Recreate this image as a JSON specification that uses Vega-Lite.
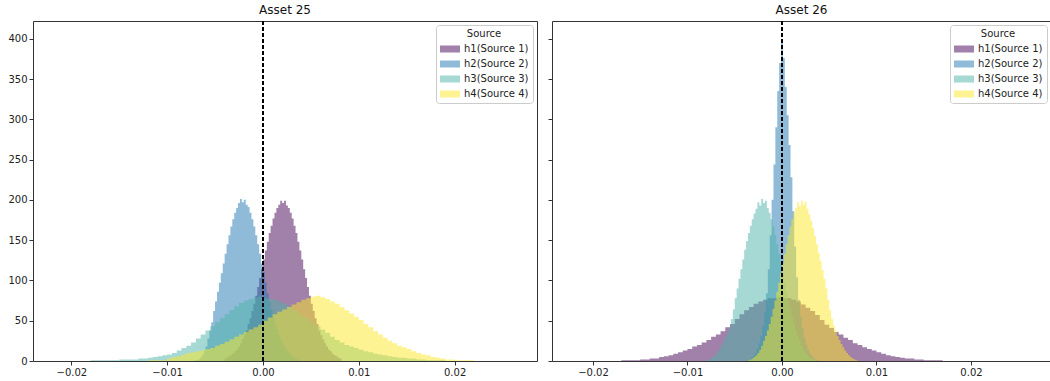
{
"$schema":"https://vega.github.io/schema/vega-lite/v6.json",
"padding":{"left":7,"top":3,"right":0,"bottom":0},
"autosize":{"type":"pad"},
"background":"white",
"spacing":9,
"data":{"values":[
{"a":"Asset 25","s":"h1(Source 1)","x":-0.0040,"n":3},{"a":"Asset 25","s":"h1(Source 1)","x":-0.0038,"n":4},{"a":"Asset 25","s":"h1(Source 1)","x":-0.0036,"n":6},{"a":"Asset 25","s":"h1(Source 1)","x":-0.0034,"n":7},{"a":"Asset 25","s":"h1(Source 1)","x":-0.0032,"n":9},{"a":"Asset 25","s":"h1(Source 1)","x":-0.0030,"n":12},{"a":"Asset 25","s":"h1(Source 1)","x":-0.0028,"n":14},{"a":"Asset 25","s":"h1(Source 1)","x":-0.0026,"n":18},{"a":"Asset 25","s":"h1(Source 1)","x":-0.0024,"n":22},{"a":"Asset 25","s":"h1(Source 1)","x":-0.0022,"n":27},{"a":"Asset 25","s":"h1(Source 1)","x":-0.0020,"n":32},{"a":"Asset 25","s":"h1(Source 1)","x":-0.0018,"n":38},{"a":"Asset 25","s":"h1(Source 1)","x":-0.0016,"n":46},{"a":"Asset 25","s":"h1(Source 1)","x":-0.0014,"n":53},{"a":"Asset 25","s":"h1(Source 1)","x":-0.0012,"n":62},{"a":"Asset 25","s":"h1(Source 1)","x":-0.0010,"n":71},{"a":"Asset 25","s":"h1(Source 1)","x":-0.0008,"n":81},{"a":"Asset 25","s":"h1(Source 1)","x":-0.0006,"n":92},{"a":"Asset 25","s":"h1(Source 1)","x":-0.0004,"n":103},{"a":"Asset 25","s":"h1(Source 1)","x":-0.0002,"n":114},{"a":"Asset 25","s":"h1(Source 1)","x":0.0000,"n":126},{"a":"Asset 25","s":"h1(Source 1)","x":0.0002,"n":137},{"a":"Asset 25","s":"h1(Source 1)","x":0.0004,"n":148},{"a":"Asset 25","s":"h1(Source 1)","x":0.0006,"n":159},{"a":"Asset 25","s":"h1(Source 1)","x":0.0008,"n":168},{"a":"Asset 25","s":"h1(Source 1)","x":0.0010,"n":177},{"a":"Asset 25","s":"h1(Source 1)","x":0.0012,"n":184},{"a":"Asset 25","s":"h1(Source 1)","x":0.0014,"n":190},{"a":"Asset 25","s":"h1(Source 1)","x":0.0016,"n":194},{"a":"Asset 25","s":"h1(Source 1)","x":0.0018,"n":199},{"a":"Asset 25","s":"h1(Source 1)","x":0.0020,"n":196},{"a":"Asset 25","s":"h1(Source 1)","x":0.0022,"n":199},{"a":"Asset 25","s":"h1(Source 1)","x":0.0024,"n":193},{"a":"Asset 25","s":"h1(Source 1)","x":0.0026,"n":190},{"a":"Asset 25","s":"h1(Source 1)","x":0.0028,"n":184},{"a":"Asset 25","s":"h1(Source 1)","x":0.0030,"n":177},{"a":"Asset 25","s":"h1(Source 1)","x":0.0032,"n":168},{"a":"Asset 25","s":"h1(Source 1)","x":0.0034,"n":159},{"a":"Asset 25","s":"h1(Source 1)","x":0.0036,"n":148},{"a":"Asset 25","s":"h1(Source 1)","x":0.0038,"n":137},{"a":"Asset 25","s":"h1(Source 1)","x":0.0040,"n":126},{"a":"Asset 25","s":"h1(Source 1)","x":0.0042,"n":114},{"a":"Asset 25","s":"h1(Source 1)","x":0.0044,"n":103},{"a":"Asset 25","s":"h1(Source 1)","x":0.0046,"n":92},{"a":"Asset 25","s":"h1(Source 1)","x":0.0048,"n":81},{"a":"Asset 25","s":"h1(Source 1)","x":0.0050,"n":71},{"a":"Asset 25","s":"h1(Source 1)","x":0.0052,"n":62},{"a":"Asset 25","s":"h1(Source 1)","x":0.0054,"n":53},{"a":"Asset 25","s":"h1(Source 1)","x":0.0056,"n":46},{"a":"Asset 25","s":"h1(Source 1)","x":0.0058,"n":38},{"a":"Asset 25","s":"h1(Source 1)","x":0.0060,"n":32},{"a":"Asset 25","s":"h1(Source 1)","x":0.0062,"n":27},{"a":"Asset 25","s":"h1(Source 1)","x":0.0064,"n":22},{"a":"Asset 25","s":"h1(Source 1)","x":0.0066,"n":18},{"a":"Asset 25","s":"h1(Source 1)","x":0.0068,"n":14},{"a":"Asset 25","s":"h1(Source 1)","x":0.0070,"n":12},{"a":"Asset 25","s":"h1(Source 1)","x":0.0072,"n":9},{"a":"Asset 25","s":"h1(Source 1)","x":0.0074,"n":7},{"a":"Asset 25","s":"h1(Source 1)","x":0.0076,"n":6},{"a":"Asset 25","s":"h1(Source 1)","x":0.0078,"n":4},{"a":"Asset 25","s":"h1(Source 1)","x":0.0080,"n":3},{"a":"Asset 25","s":"h1(Source 1)","x":0.0082,"n":0},

{"a":"Asset 25","s":"h2(Source 2)","x":-0.0072,"n":1},{"a":"Asset 25","s":"h2(Source 2)","x":-0.0070,"n":1},{"a":"Asset 25","s":"h2(Source 2)","x":-0.0068,"n":2},{"a":"Asset 25","s":"h2(Source 2)","x":-0.0066,"n":4},{"a":"Asset 25","s":"h2(Source 2)","x":-0.0064,"n":7},{"a":"Asset 25","s":"h2(Source 2)","x":-0.0062,"n":12},{"a":"Asset 25","s":"h2(Source 2)","x":-0.0060,"n":18},{"a":"Asset 25","s":"h2(Source 2)","x":-0.0058,"n":28},{"a":"Asset 25","s":"h2(Source 2)","x":-0.0056,"n":38},{"a":"Asset 25","s":"h2(Source 2)","x":-0.0054,"n":48},{"a":"Asset 25","s":"h2(Source 2)","x":-0.0052,"n":62},{"a":"Asset 25","s":"h2(Source 2)","x":-0.0050,"n":74},{"a":"Asset 25","s":"h2(Source 2)","x":-0.0048,"n":86},{"a":"Asset 25","s":"h2(Source 2)","x":-0.0046,"n":97},{"a":"Asset 25","s":"h2(Source 2)","x":-0.0044,"n":109},{"a":"Asset 25","s":"h2(Source 2)","x":-0.0042,"n":121},{"a":"Asset 25","s":"h2(Source 2)","x":-0.0040,"n":133},{"a":"Asset 25","s":"h2(Source 2)","x":-0.0038,"n":145},{"a":"Asset 25","s":"h2(Source 2)","x":-0.0036,"n":156},{"a":"Asset 25","s":"h2(Source 2)","x":-0.0034,"n":167},{"a":"Asset 25","s":"h2(Source 2)","x":-0.0032,"n":176},{"a":"Asset 25","s":"h2(Source 2)","x":-0.0030,"n":184},{"a":"Asset 25","s":"h2(Source 2)","x":-0.0028,"n":190},{"a":"Asset 25","s":"h2(Source 2)","x":-0.0026,"n":196},{"a":"Asset 25","s":"h2(Source 2)","x":-0.0024,"n":201},{"a":"Asset 25","s":"h2(Source 2)","x":-0.0022,"n":197},{"a":"Asset 25","s":"h2(Source 2)","x":-0.0020,"n":200},{"a":"Asset 25","s":"h2(Source 2)","x":-0.0018,"n":194},{"a":"Asset 25","s":"h2(Source 2)","x":-0.0016,"n":191},{"a":"Asset 25","s":"h2(Source 2)","x":-0.0014,"n":184},{"a":"Asset 25","s":"h2(Source 2)","x":-0.0012,"n":176},{"a":"Asset 25","s":"h2(Source 2)","x":-0.0010,"n":167},{"a":"Asset 25","s":"h2(Source 2)","x":-0.0008,"n":156},{"a":"Asset 25","s":"h2(Source 2)","x":-0.0006,"n":145},{"a":"Asset 25","s":"h2(Source 2)","x":-0.0004,"n":133},{"a":"Asset 25","s":"h2(Source 2)","x":-0.0002,"n":121},{"a":"Asset 25","s":"h2(Source 2)","x":0.0000,"n":110},{"a":"Asset 25","s":"h2(Source 2)","x":0.0002,"n":97},{"a":"Asset 25","s":"h2(Source 2)","x":0.0004,"n":84},{"a":"Asset 25","s":"h2(Source 2)","x":0.0006,"n":74},{"a":"Asset 25","s":"h2(Source 2)","x":0.0008,"n":64},{"a":"Asset 25","s":"h2(Source 2)","x":0.0010,"n":55},{"a":"Asset 25","s":"h2(Source 2)","x":0.0012,"n":47},{"a":"Asset 25","s":"h2(Source 2)","x":0.0014,"n":39},{"a":"Asset 25","s":"h2(Source 2)","x":0.0016,"n":32},{"a":"Asset 25","s":"h2(Source 2)","x":0.0018,"n":26},{"a":"Asset 25","s":"h2(Source 2)","x":0.0020,"n":21},{"a":"Asset 25","s":"h2(Source 2)","x":0.0022,"n":17},{"a":"Asset 25","s":"h2(Source 2)","x":0.0024,"n":13},{"a":"Asset 25","s":"h2(Source 2)","x":0.0026,"n":10},{"a":"Asset 25","s":"h2(Source 2)","x":0.0028,"n":8},{"a":"Asset 25","s":"h2(Source 2)","x":0.0030,"n":6},{"a":"Asset 25","s":"h2(Source 2)","x":0.0032,"n":4},{"a":"Asset 25","s":"h2(Source 2)","x":0.0034,"n":3},{"a":"Asset 25","s":"h2(Source 2)","x":0.0036,"n":2},{"a":"Asset 25","s":"h2(Source 2)","x":0.0038,"n":1},{"a":"Asset 25","s":"h2(Source 2)","x":0.0040,"n":0},

{"a":"Asset 25","s":"h3(Source 3)","x":-0.0180,"n":1},{"a":"Asset 25","s":"h3(Source 3)","x":-0.0170,"n":1},{"a":"Asset 25","s":"h3(Source 3)","x":-0.0160,"n":1},{"a":"Asset 25","s":"h3(Source 3)","x":-0.0150,"n":2},{"a":"Asset 25","s":"h3(Source 3)","x":-0.0140,"n":2},{"a":"Asset 25","s":"h3(Source 3)","x":-0.0130,"n":3},{"a":"Asset 25","s":"h3(Source 3)","x":-0.0120,"n":4},{"a":"Asset 25","s":"h3(Source 3)","x":-0.0115,"n":5},{"a":"Asset 25","s":"h3(Source 3)","x":-0.0110,"n":6},{"a":"Asset 25","s":"h3(Source 3)","x":-0.0105,"n":7},{"a":"Asset 25","s":"h3(Source 3)","x":-0.0100,"n":8},{"a":"Asset 25","s":"h3(Source 3)","x":-0.0095,"n":10},{"a":"Asset 25","s":"h3(Source 3)","x":-0.0090,"n":13},{"a":"Asset 25","s":"h3(Source 3)","x":-0.0085,"n":16},{"a":"Asset 25","s":"h3(Source 3)","x":-0.0080,"n":19},{"a":"Asset 25","s":"h3(Source 3)","x":-0.0075,"n":23},{"a":"Asset 25","s":"h3(Source 3)","x":-0.0070,"n":28},{"a":"Asset 25","s":"h3(Source 3)","x":-0.0065,"n":33},{"a":"Asset 25","s":"h3(Source 3)","x":-0.0060,"n":38},{"a":"Asset 25","s":"h3(Source 3)","x":-0.0055,"n":43},{"a":"Asset 25","s":"h3(Source 3)","x":-0.0050,"n":48},{"a":"Asset 25","s":"h3(Source 3)","x":-0.0045,"n":53},{"a":"Asset 25","s":"h3(Source 3)","x":-0.0040,"n":58},{"a":"Asset 25","s":"h3(Source 3)","x":-0.0035,"n":63},{"a":"Asset 25","s":"h3(Source 3)","x":-0.0030,"n":68},{"a":"Asset 25","s":"h3(Source 3)","x":-0.0025,"n":72},{"a":"Asset 25","s":"h3(Source 3)","x":-0.0020,"n":75},{"a":"Asset 25","s":"h3(Source 3)","x":-0.0015,"n":77},{"a":"Asset 25","s":"h3(Source 3)","x":-0.0010,"n":79},{"a":"Asset 25","s":"h3(Source 3)","x":-0.0005,"n":80},{"a":"Asset 25","s":"h3(Source 3)","x":0.0000,"n":78},{"a":"Asset 25","s":"h3(Source 3)","x":0.0005,"n":77},{"a":"Asset 25","s":"h3(Source 3)","x":0.0010,"n":76},{"a":"Asset 25","s":"h3(Source 3)","x":0.0015,"n":74},{"a":"Asset 25","s":"h3(Source 3)","x":0.0020,"n":71},{"a":"Asset 25","s":"h3(Source 3)","x":0.0025,"n":68},{"a":"Asset 25","s":"h3(Source 3)","x":0.0030,"n":64},{"a":"Asset 25","s":"h3(Source 3)","x":0.0035,"n":60},{"a":"Asset 25","s":"h3(Source 3)","x":0.0040,"n":56},{"a":"Asset 25","s":"h3(Source 3)","x":0.0045,"n":52},{"a":"Asset 25","s":"h3(Source 3)","x":0.0050,"n":47},{"a":"Asset 25","s":"h3(Source 3)","x":0.0055,"n":43},{"a":"Asset 25","s":"h3(Source 3)","x":0.0060,"n":39},{"a":"Asset 25","s":"h3(Source 3)","x":0.0065,"n":35},{"a":"Asset 25","s":"h3(Source 3)","x":0.0070,"n":30},{"a":"Asset 25","s":"h3(Source 3)","x":0.0075,"n":26},{"a":"Asset 25","s":"h3(Source 3)","x":0.0080,"n":23},{"a":"Asset 25","s":"h3(Source 3)","x":0.0085,"n":20},{"a":"Asset 25","s":"h3(Source 3)","x":0.0090,"n":18},{"a":"Asset 25","s":"h3(Source 3)","x":0.0095,"n":16},{"a":"Asset 25","s":"h3(Source 3)","x":0.0100,"n":14},{"a":"Asset 25","s":"h3(Source 3)","x":0.0105,"n":12},{"a":"Asset 25","s":"h3(Source 3)","x":0.0110,"n":11},{"a":"Asset 25","s":"h3(Source 3)","x":0.0115,"n":9},{"a":"Asset 25","s":"h3(Source 3)","x":0.0120,"n":8},{"a":"Asset 25","s":"h3(Source 3)","x":0.0125,"n":7},{"a":"Asset 25","s":"h3(Source 3)","x":0.0130,"n":6},{"a":"Asset 25","s":"h3(Source 3)","x":0.0135,"n":5},{"a":"Asset 25","s":"h3(Source 3)","x":0.0140,"n":4},{"a":"Asset 25","s":"h3(Source 3)","x":0.0150,"n":3},{"a":"Asset 25","s":"h3(Source 3)","x":0.0160,"n":2},{"a":"Asset 25","s":"h3(Source 3)","x":0.0170,"n":1},{"a":"Asset 25","s":"h3(Source 3)","x":0.0180,"n":1},{"a":"Asset 25","s":"h3(Source 3)","x":0.0190,"n":0},

{"a":"Asset 25","s":"h4(Source 4)","x":-0.0120,"n":1},{"a":"Asset 25","s":"h4(Source 4)","x":-0.0110,"n":1},{"a":"Asset 25","s":"h4(Source 4)","x":-0.0100,"n":3},{"a":"Asset 25","s":"h4(Source 4)","x":-0.0095,"n":5},{"a":"Asset 25","s":"h4(Source 4)","x":-0.0090,"n":6},{"a":"Asset 25","s":"h4(Source 4)","x":-0.0085,"n":8},{"a":"Asset 25","s":"h4(Source 4)","x":-0.0080,"n":10},{"a":"Asset 25","s":"h4(Source 4)","x":-0.0075,"n":11},{"a":"Asset 25","s":"h4(Source 4)","x":-0.0070,"n":12},{"a":"Asset 25","s":"h4(Source 4)","x":-0.0065,"n":13},{"a":"Asset 25","s":"h4(Source 4)","x":-0.0060,"n":15},{"a":"Asset 25","s":"h4(Source 4)","x":-0.0055,"n":16},{"a":"Asset 25","s":"h4(Source 4)","x":-0.0050,"n":19},{"a":"Asset 25","s":"h4(Source 4)","x":-0.0045,"n":21},{"a":"Asset 25","s":"h4(Source 4)","x":-0.0040,"n":24},{"a":"Asset 25","s":"h4(Source 4)","x":-0.0035,"n":27},{"a":"Asset 25","s":"h4(Source 4)","x":-0.0030,"n":30},{"a":"Asset 25","s":"h4(Source 4)","x":-0.0025,"n":33},{"a":"Asset 25","s":"h4(Source 4)","x":-0.0020,"n":36},{"a":"Asset 25","s":"h4(Source 4)","x":-0.0015,"n":39},{"a":"Asset 25","s":"h4(Source 4)","x":-0.0010,"n":42},{"a":"Asset 25","s":"h4(Source 4)","x":-0.0005,"n":45},{"a":"Asset 25","s":"h4(Source 4)","x":0.0000,"n":50},{"a":"Asset 25","s":"h4(Source 4)","x":0.0005,"n":54},{"a":"Asset 25","s":"h4(Source 4)","x":0.0010,"n":58},{"a":"Asset 25","s":"h4(Source 4)","x":0.0015,"n":61},{"a":"Asset 25","s":"h4(Source 4)","x":0.0020,"n":64},{"a":"Asset 25","s":"h4(Source 4)","x":0.0025,"n":67},{"a":"Asset 25","s":"h4(Source 4)","x":0.0030,"n":70},{"a":"Asset 25","s":"h4(Source 4)","x":0.0035,"n":73},{"a":"Asset 25","s":"h4(Source 4)","x":0.0040,"n":76},{"a":"Asset 25","s":"h4(Source 4)","x":0.0045,"n":78},{"a":"Asset 25","s":"h4(Source 4)","x":0.0050,"n":80},{"a":"Asset 25","s":"h4(Source 4)","x":0.0055,"n":81},{"a":"Asset 25","s":"h4(Source 4)","x":0.0060,"n":79},{"a":"Asset 25","s":"h4(Source 4)","x":0.0065,"n":77},{"a":"Asset 25","s":"h4(Source 4)","x":0.0070,"n":74},{"a":"Asset 25","s":"h4(Source 4)","x":0.0075,"n":71},{"a":"Asset 25","s":"h4(Source 4)","x":0.0080,"n":67},{"a":"Asset 25","s":"h4(Source 4)","x":0.0085,"n":63},{"a":"Asset 25","s":"h4(Source 4)","x":0.0090,"n":59},{"a":"Asset 25","s":"h4(Source 4)","x":0.0095,"n":55},{"a":"Asset 25","s":"h4(Source 4)","x":0.0100,"n":51},{"a":"Asset 25","s":"h4(Source 4)","x":0.0105,"n":46},{"a":"Asset 25","s":"h4(Source 4)","x":0.0110,"n":42},{"a":"Asset 25","s":"h4(Source 4)","x":0.0115,"n":37},{"a":"Asset 25","s":"h4(Source 4)","x":0.0120,"n":33},{"a":"Asset 25","s":"h4(Source 4)","x":0.0125,"n":29},{"a":"Asset 25","s":"h4(Source 4)","x":0.0130,"n":25},{"a":"Asset 25","s":"h4(Source 4)","x":0.0135,"n":22},{"a":"Asset 25","s":"h4(Source 4)","x":0.0140,"n":19},{"a":"Asset 25","s":"h4(Source 4)","x":0.0145,"n":17},{"a":"Asset 25","s":"h4(Source 4)","x":0.0150,"n":15},{"a":"Asset 25","s":"h4(Source 4)","x":0.0155,"n":12},{"a":"Asset 25","s":"h4(Source 4)","x":0.0160,"n":10},{"a":"Asset 25","s":"h4(Source 4)","x":0.0165,"n":8},{"a":"Asset 25","s":"h4(Source 4)","x":0.0170,"n":7},{"a":"Asset 25","s":"h4(Source 4)","x":0.0175,"n":5},{"a":"Asset 25","s":"h4(Source 4)","x":0.0180,"n":4},{"a":"Asset 25","s":"h4(Source 4)","x":0.0185,"n":3},{"a":"Asset 25","s":"h4(Source 4)","x":0.0190,"n":2},{"a":"Asset 25","s":"h4(Source 4)","x":0.0195,"n":2},{"a":"Asset 25","s":"h4(Source 4)","x":0.0200,"n":1},{"a":"Asset 25","s":"h4(Source 4)","x":0.0210,"n":1},{"a":"Asset 25","s":"h4(Source 4)","x":0.0220,"n":0},

{"a":"Asset 26","s":"h1(Source 1)","x":-0.0170,"n":1},{"a":"Asset 26","s":"h1(Source 1)","x":-0.0160,"n":1},{"a":"Asset 26","s":"h1(Source 1)","x":-0.0150,"n":2},{"a":"Asset 26","s":"h1(Source 1)","x":-0.0140,"n":3},{"a":"Asset 26","s":"h1(Source 1)","x":-0.0130,"n":5},{"a":"Asset 26","s":"h1(Source 1)","x":-0.0125,"n":6},{"a":"Asset 26","s":"h1(Source 1)","x":-0.0120,"n":7},{"a":"Asset 26","s":"h1(Source 1)","x":-0.0115,"n":9},{"a":"Asset 26","s":"h1(Source 1)","x":-0.0110,"n":11},{"a":"Asset 26","s":"h1(Source 1)","x":-0.0105,"n":13},{"a":"Asset 26","s":"h1(Source 1)","x":-0.0100,"n":15},{"a":"Asset 26","s":"h1(Source 1)","x":-0.0095,"n":18},{"a":"Asset 26","s":"h1(Source 1)","x":-0.0090,"n":20},{"a":"Asset 26","s":"h1(Source 1)","x":-0.0085,"n":23},{"a":"Asset 26","s":"h1(Source 1)","x":-0.0080,"n":26},{"a":"Asset 26","s":"h1(Source 1)","x":-0.0075,"n":30},{"a":"Asset 26","s":"h1(Source 1)","x":-0.0070,"n":33},{"a":"Asset 26","s":"h1(Source 1)","x":-0.0065,"n":37},{"a":"Asset 26","s":"h1(Source 1)","x":-0.0060,"n":42},{"a":"Asset 26","s":"h1(Source 1)","x":-0.0055,"n":46},{"a":"Asset 26","s":"h1(Source 1)","x":-0.0050,"n":52},{"a":"Asset 26","s":"h1(Source 1)","x":-0.0045,"n":58},{"a":"Asset 26","s":"h1(Source 1)","x":-0.0040,"n":63},{"a":"Asset 26","s":"h1(Source 1)","x":-0.0035,"n":67},{"a":"Asset 26","s":"h1(Source 1)","x":-0.0030,"n":71},{"a":"Asset 26","s":"h1(Source 1)","x":-0.0025,"n":74},{"a":"Asset 26","s":"h1(Source 1)","x":-0.0020,"n":76},{"a":"Asset 26","s":"h1(Source 1)","x":-0.0015,"n":78},{"a":"Asset 26","s":"h1(Source 1)","x":-0.0010,"n":78},{"a":"Asset 26","s":"h1(Source 1)","x":-0.0005,"n":79},{"a":"Asset 26","s":"h1(Source 1)","x":0.0000,"n":78},{"a":"Asset 26","s":"h1(Source 1)","x":0.0005,"n":78},{"a":"Asset 26","s":"h1(Source 1)","x":0.0010,"n":76},{"a":"Asset 26","s":"h1(Source 1)","x":0.0015,"n":74},{"a":"Asset 26","s":"h1(Source 1)","x":0.0020,"n":70},{"a":"Asset 26","s":"h1(Source 1)","x":0.0025,"n":66},{"a":"Asset 26","s":"h1(Source 1)","x":0.0030,"n":62},{"a":"Asset 26","s":"h1(Source 1)","x":0.0035,"n":57},{"a":"Asset 26","s":"h1(Source 1)","x":0.0040,"n":51},{"a":"Asset 26","s":"h1(Source 1)","x":0.0045,"n":45},{"a":"Asset 26","s":"h1(Source 1)","x":0.0050,"n":41},{"a":"Asset 26","s":"h1(Source 1)","x":0.0055,"n":36},{"a":"Asset 26","s":"h1(Source 1)","x":0.0060,"n":33},{"a":"Asset 26","s":"h1(Source 1)","x":0.0065,"n":29},{"a":"Asset 26","s":"h1(Source 1)","x":0.0070,"n":26},{"a":"Asset 26","s":"h1(Source 1)","x":0.0075,"n":22},{"a":"Asset 26","s":"h1(Source 1)","x":0.0080,"n":20},{"a":"Asset 26","s":"h1(Source 1)","x":0.0085,"n":17},{"a":"Asset 26","s":"h1(Source 1)","x":0.0090,"n":15},{"a":"Asset 26","s":"h1(Source 1)","x":0.0095,"n":13},{"a":"Asset 26","s":"h1(Source 1)","x":0.0100,"n":11},{"a":"Asset 26","s":"h1(Source 1)","x":0.0105,"n":9},{"a":"Asset 26","s":"h1(Source 1)","x":0.0110,"n":7},{"a":"Asset 26","s":"h1(Source 1)","x":0.0115,"n":6},{"a":"Asset 26","s":"h1(Source 1)","x":0.0120,"n":5},{"a":"Asset 26","s":"h1(Source 1)","x":0.0125,"n":4},{"a":"Asset 26","s":"h1(Source 1)","x":0.0130,"n":3},{"a":"Asset 26","s":"h1(Source 1)","x":0.0140,"n":2},{"a":"Asset 26","s":"h1(Source 1)","x":0.0150,"n":1},{"a":"Asset 26","s":"h1(Source 1)","x":0.0160,"n":1},{"a":"Asset 26","s":"h1(Source 1)","x":0.0170,"n":0},

{"a":"Asset 26","s":"h2(Source 2)","x":-0.0037,"n":1},{"a":"Asset 26","s":"h2(Source 2)","x":-0.0035,"n":2},{"a":"Asset 26","s":"h2(Source 2)","x":-0.0033,"n":4},{"a":"Asset 26","s":"h2(Source 2)","x":-0.0031,"n":6},{"a":"Asset 26","s":"h2(Source 2)","x":-0.0029,"n":10},{"a":"Asset 26","s":"h2(Source 2)","x":-0.0027,"n":15},{"a":"Asset 26","s":"h2(Source 2)","x":-0.0025,"n":22},{"a":"Asset 26","s":"h2(Source 2)","x":-0.0023,"n":31},{"a":"Asset 26","s":"h2(Source 2)","x":-0.0021,"n":43},{"a":"Asset 26","s":"h2(Source 2)","x":-0.0019,"n":60},{"a":"Asset 26","s":"h2(Source 2)","x":-0.0017,"n":84},{"a":"Asset 26","s":"h2(Source 2)","x":-0.0015,"n":114},{"a":"Asset 26","s":"h2(Source 2)","x":-0.0013,"n":156},{"a":"Asset 26","s":"h2(Source 2)","x":-0.0011,"n":200},{"a":"Asset 26","s":"h2(Source 2)","x":-0.0009,"n":244},{"a":"Asset 26","s":"h2(Source 2)","x":-0.0007,"n":290},{"a":"Asset 26","s":"h2(Source 2)","x":-0.0005,"n":335},{"a":"Asset 26","s":"h2(Source 2)","x":-0.0003,"n":370},{"a":"Asset 26","s":"h2(Source 2)","x":-0.0001,"n":398},{"a":"Asset 26","s":"h2(Source 2)","x":0.0001,"n":376},{"a":"Asset 26","s":"h2(Source 2)","x":0.0003,"n":340},{"a":"Asset 26","s":"h2(Source 2)","x":0.0005,"n":305},{"a":"Asset 26","s":"h2(Source 2)","x":0.0007,"n":268},{"a":"Asset 26","s":"h2(Source 2)","x":0.0009,"n":228},{"a":"Asset 26","s":"h2(Source 2)","x":0.0011,"n":186},{"a":"Asset 26","s":"h2(Source 2)","x":0.0013,"n":142},{"a":"Asset 26","s":"h2(Source 2)","x":0.0015,"n":104},{"a":"Asset 26","s":"h2(Source 2)","x":0.0017,"n":76},{"a":"Asset 26","s":"h2(Source 2)","x":0.0019,"n":55},{"a":"Asset 26","s":"h2(Source 2)","x":0.0021,"n":40},{"a":"Asset 26","s":"h2(Source 2)","x":0.0023,"n":29},{"a":"Asset 26","s":"h2(Source 2)","x":0.0025,"n":20},{"a":"Asset 26","s":"h2(Source 2)","x":0.0027,"n":14},{"a":"Asset 26","s":"h2(Source 2)","x":0.0029,"n":9},{"a":"Asset 26","s":"h2(Source 2)","x":0.0031,"n":6},{"a":"Asset 26","s":"h2(Source 2)","x":0.0033,"n":3},{"a":"Asset 26","s":"h2(Source 2)","x":0.0035,"n":2},{"a":"Asset 26","s":"h2(Source 2)","x":0.0037,"n":1},{"a":"Asset 26","s":"h2(Source 2)","x":0.0039,"n":0},

{"a":"Asset 26","s":"h3(Source 3)","x":-0.0080,"n":1},{"a":"Asset 26","s":"h3(Source 3)","x":-0.0078,"n":2},{"a":"Asset 26","s":"h3(Source 3)","x":-0.0076,"n":3},{"a":"Asset 26","s":"h3(Source 3)","x":-0.0074,"n":5},{"a":"Asset 26","s":"h3(Source 3)","x":-0.0072,"n":7},{"a":"Asset 26","s":"h3(Source 3)","x":-0.0070,"n":10},{"a":"Asset 26","s":"h3(Source 3)","x":-0.0068,"n":13},{"a":"Asset 26","s":"h3(Source 3)","x":-0.0066,"n":17},{"a":"Asset 26","s":"h3(Source 3)","x":-0.0064,"n":21},{"a":"Asset 26","s":"h3(Source 3)","x":-0.0062,"n":26},{"a":"Asset 26","s":"h3(Source 3)","x":-0.0060,"n":31},{"a":"Asset 26","s":"h3(Source 3)","x":-0.0058,"n":36},{"a":"Asset 26","s":"h3(Source 3)","x":-0.0056,"n":42},{"a":"Asset 26","s":"h3(Source 3)","x":-0.0054,"n":52},{"a":"Asset 26","s":"h3(Source 3)","x":-0.0052,"n":64},{"a":"Asset 26","s":"h3(Source 3)","x":-0.0050,"n":78},{"a":"Asset 26","s":"h3(Source 3)","x":-0.0048,"n":90},{"a":"Asset 26","s":"h3(Source 3)","x":-0.0046,"n":102},{"a":"Asset 26","s":"h3(Source 3)","x":-0.0044,"n":114},{"a":"Asset 26","s":"h3(Source 3)","x":-0.0042,"n":126},{"a":"Asset 26","s":"h3(Source 3)","x":-0.0040,"n":138},{"a":"Asset 26","s":"h3(Source 3)","x":-0.0038,"n":149},{"a":"Asset 26","s":"h3(Source 3)","x":-0.0036,"n":159},{"a":"Asset 26","s":"h3(Source 3)","x":-0.0034,"n":168},{"a":"Asset 26","s":"h3(Source 3)","x":-0.0032,"n":176},{"a":"Asset 26","s":"h3(Source 3)","x":-0.0030,"n":183},{"a":"Asset 26","s":"h3(Source 3)","x":-0.0028,"n":189},{"a":"Asset 26","s":"h3(Source 3)","x":-0.0026,"n":197},{"a":"Asset 26","s":"h3(Source 3)","x":-0.0024,"n":193},{"a":"Asset 26","s":"h3(Source 3)","x":-0.0022,"n":201},{"a":"Asset 26","s":"h3(Source 3)","x":-0.0020,"n":196},{"a":"Asset 26","s":"h3(Source 3)","x":-0.0018,"n":199},{"a":"Asset 26","s":"h3(Source 3)","x":-0.0016,"n":190},{"a":"Asset 26","s":"h3(Source 3)","x":-0.0014,"n":184},{"a":"Asset 26","s":"h3(Source 3)","x":-0.0012,"n":176},{"a":"Asset 26","s":"h3(Source 3)","x":-0.0010,"n":167},{"a":"Asset 26","s":"h3(Source 3)","x":-0.0008,"n":156},{"a":"Asset 26","s":"h3(Source 3)","x":-0.0006,"n":145},{"a":"Asset 26","s":"h3(Source 3)","x":-0.0004,"n":133},{"a":"Asset 26","s":"h3(Source 3)","x":-0.0002,"n":121},{"a":"Asset 26","s":"h3(Source 3)","x":0.0000,"n":109},{"a":"Asset 26","s":"h3(Source 3)","x":0.0002,"n":97},{"a":"Asset 26","s":"h3(Source 3)","x":0.0004,"n":86},{"a":"Asset 26","s":"h3(Source 3)","x":0.0006,"n":75},{"a":"Asset 26","s":"h3(Source 3)","x":0.0008,"n":65},{"a":"Asset 26","s":"h3(Source 3)","x":0.0010,"n":55},{"a":"Asset 26","s":"h3(Source 3)","x":0.0012,"n":46},{"a":"Asset 26","s":"h3(Source 3)","x":0.0014,"n":38},{"a":"Asset 26","s":"h3(Source 3)","x":0.0016,"n":31},{"a":"Asset 26","s":"h3(Source 3)","x":0.0018,"n":25},{"a":"Asset 26","s":"h3(Source 3)","x":0.0020,"n":19},{"a":"Asset 26","s":"h3(Source 3)","x":0.0022,"n":14},{"a":"Asset 26","s":"h3(Source 3)","x":0.0024,"n":10},{"a":"Asset 26","s":"h3(Source 3)","x":0.0026,"n":7},{"a":"Asset 26","s":"h3(Source 3)","x":0.0028,"n":5},{"a":"Asset 26","s":"h3(Source 3)","x":0.0030,"n":3},{"a":"Asset 26","s":"h3(Source 3)","x":0.0032,"n":2},{"a":"Asset 26","s":"h3(Source 3)","x":0.0034,"n":1},{"a":"Asset 26","s":"h3(Source 3)","x":0.0036,"n":0},

{"a":"Asset 26","s":"h4(Source 4)","x":-0.0036,"n":1},{"a":"Asset 26","s":"h4(Source 4)","x":-0.0034,"n":2},{"a":"Asset 26","s":"h4(Source 4)","x":-0.0032,"n":3},{"a":"Asset 26","s":"h4(Source 4)","x":-0.0030,"n":5},{"a":"Asset 26","s":"h4(Source 4)","x":-0.0028,"n":7},{"a":"Asset 26","s":"h4(Source 4)","x":-0.0026,"n":10},{"a":"Asset 26","s":"h4(Source 4)","x":-0.0024,"n":14},{"a":"Asset 26","s":"h4(Source 4)","x":-0.0022,"n":19},{"a":"Asset 26","s":"h4(Source 4)","x":-0.0020,"n":25},{"a":"Asset 26","s":"h4(Source 4)","x":-0.0018,"n":31},{"a":"Asset 26","s":"h4(Source 4)","x":-0.0016,"n":38},{"a":"Asset 26","s":"h4(Source 4)","x":-0.0014,"n":46},{"a":"Asset 26","s":"h4(Source 4)","x":-0.0012,"n":55},{"a":"Asset 26","s":"h4(Source 4)","x":-0.0010,"n":65},{"a":"Asset 26","s":"h4(Source 4)","x":-0.0008,"n":75},{"a":"Asset 26","s":"h4(Source 4)","x":-0.0006,"n":86},{"a":"Asset 26","s":"h4(Source 4)","x":-0.0004,"n":97},{"a":"Asset 26","s":"h4(Source 4)","x":-0.0002,"n":109},{"a":"Asset 26","s":"h4(Source 4)","x":0.0000,"n":121},{"a":"Asset 26","s":"h4(Source 4)","x":0.0002,"n":133},{"a":"Asset 26","s":"h4(Source 4)","x":0.0004,"n":145},{"a":"Asset 26","s":"h4(Source 4)","x":0.0006,"n":156},{"a":"Asset 26","s":"h4(Source 4)","x":0.0008,"n":167},{"a":"Asset 26","s":"h4(Source 4)","x":0.0010,"n":176},{"a":"Asset 26","s":"h4(Source 4)","x":0.0012,"n":184},{"a":"Asset 26","s":"h4(Source 4)","x":0.0014,"n":190},{"a":"Asset 26","s":"h4(Source 4)","x":0.0016,"n":197},{"a":"Asset 26","s":"h4(Source 4)","x":0.0018,"n":192},{"a":"Asset 26","s":"h4(Source 4)","x":0.0020,"n":199},{"a":"Asset 26","s":"h4(Source 4)","x":0.0022,"n":194},{"a":"Asset 26","s":"h4(Source 4)","x":0.0024,"n":198},{"a":"Asset 26","s":"h4(Source 4)","x":0.0026,"n":189},{"a":"Asset 26","s":"h4(Source 4)","x":0.0028,"n":182},{"a":"Asset 26","s":"h4(Source 4)","x":0.0030,"n":174},{"a":"Asset 26","s":"h4(Source 4)","x":0.0032,"n":165},{"a":"Asset 26","s":"h4(Source 4)","x":0.0034,"n":155},{"a":"Asset 26","s":"h4(Source 4)","x":0.0036,"n":145},{"a":"Asset 26","s":"h4(Source 4)","x":0.0038,"n":134},{"a":"Asset 26","s":"h4(Source 4)","x":0.0040,"n":124},{"a":"Asset 26","s":"h4(Source 4)","x":0.0042,"n":113},{"a":"Asset 26","s":"h4(Source 4)","x":0.0044,"n":102},{"a":"Asset 26","s":"h4(Source 4)","x":0.0046,"n":90},{"a":"Asset 26","s":"h4(Source 4)","x":0.0048,"n":76},{"a":"Asset 26","s":"h4(Source 4)","x":0.0050,"n":63},{"a":"Asset 26","s":"h4(Source 4)","x":0.0052,"n":52},{"a":"Asset 26","s":"h4(Source 4)","x":0.0054,"n":44},{"a":"Asset 26","s":"h4(Source 4)","x":0.0056,"n":38},{"a":"Asset 26","s":"h4(Source 4)","x":0.0058,"n":31},{"a":"Asset 26","s":"h4(Source 4)","x":0.0060,"n":26},{"a":"Asset 26","s":"h4(Source 4)","x":0.0062,"n":21},{"a":"Asset 26","s":"h4(Source 4)","x":0.0064,"n":17},{"a":"Asset 26","s":"h4(Source 4)","x":0.0066,"n":13},{"a":"Asset 26","s":"h4(Source 4)","x":0.0068,"n":10},{"a":"Asset 26","s":"h4(Source 4)","x":0.0070,"n":7},{"a":"Asset 26","s":"h4(Source 4)","x":0.0072,"n":5},{"a":"Asset 26","s":"h4(Source 4)","x":0.0074,"n":3},{"a":"Asset 26","s":"h4(Source 4)","x":0.0076,"n":2},{"a":"Asset 26","s":"h4(Source 4)","x":0.0078,"n":1},{"a":"Asset 26","s":"h4(Source 4)","x":0.0080,"n":0}
]},
"hconcat":[
{"title":"Asset 25","width":504,"height":340,
 "transform":[{"filter":{"field":"a","equal":"Asset 25"}}],
 "layer":[
  {"mark":{"type":"area","interpolate":"step-after","opacity":0.5,"clip":true},
   "encoding":{
    "x":{"field":"x","type":"quantitative","scale":{"domain":[-0.0240,0.0286],"nice":false,"zero":false},"axis":{"values":[-0.02,-0.01,0,0.01,0.02],"format":".2f","title":null}},
    "y":{"field":"n","type":"quantitative","stack":null,"scale":{"domain":[0,422],"nice":false},"axis":{"values":[0,50,100,150,200,250,300,350,400],"title":null}},
    "color":{"field":"s","type":"nominal","scale":{"domain":["h1(Source 1)","h2(Source 2)","h3(Source 3)","h4(Source 4)"],"range":["#440154","#1f77b4","#4db3a8","#fde725"]},"legend":{"title":"Source"}}
   }},
  {"mark":{"type":"rule","strokeDash":[4,2],"color":"#000","strokeWidth":0.8},"encoding":{"x":{"datum":0}}}
 ]},
{"title":"Asset 26","width":499,"height":340,
 "transform":[{"filter":{"field":"a","equal":"Asset 26"}}],
 "layer":[
  {"mark":{"type":"area","interpolate":"step-after","opacity":0.5,"clip":true},
   "encoding":{
    "x":{"field":"x","type":"quantitative","scale":{"domain":[-0.02434,0.02847],"nice":false,"zero":false},"axis":{"values":[-0.02,-0.01,0,0.01,0.02],"format":".2f","title":null}},
    "y":{"field":"n","type":"quantitative","stack":null,"scale":{"domain":[0,422],"nice":false},"axis":{"values":[0,50,100,150,200,250,300,350,400],"title":null,"labels":false}},
    "color":{"field":"s","type":"nominal","scale":{"domain":["h1(Source 1)","h2(Source 2)","h3(Source 3)","h4(Source 4)"],"range":["#440154","#1f77b4","#4db3a8","#fde725"]},"legend":{"title":"Source"}}
   }},
  {"mark":{"type":"rule","strokeDash":[4,2],"color":"#000","strokeWidth":0.8},"encoding":{"x":{"datum":0}}}
 ]}
],
"resolve":{"legend":{"color":"independent"},"scale":{"color":"independent"}},
"config":{
 "font":"DejaVu Sans",
 "view":{"stroke":"#333","strokeWidth":1},
 "axis":{"domain":false,"grid":false,"tickColor":"#333","tickSize":4,"labelFontSize":10,"labelColor":"#222","labelPadding":2},
 "title":{"fontSize":12,"fontWeight":"normal","offset":4,"anchor":"middle","color":"#111"},
 "legend":{"orient":"top-right","offset":4,"titleAnchor":"middle","titleFontWeight":"normal","titleFontSize":10,"titleColor":"#222","titlePadding":0,"labelFontSize":10,"labelColor":"#222","fillColor":"white","strokeColor":"#ccc","padding":4,"cornerRadius":3,"symbolType":"M-1,-0.35L1,-0.35L1,0.35L-1,0.35Z","symbolSize":400,"symbolOpacity":0.5,"symbolStrokeWidth":0,"labelOffset":4,"rowPadding":-1}
}
}
